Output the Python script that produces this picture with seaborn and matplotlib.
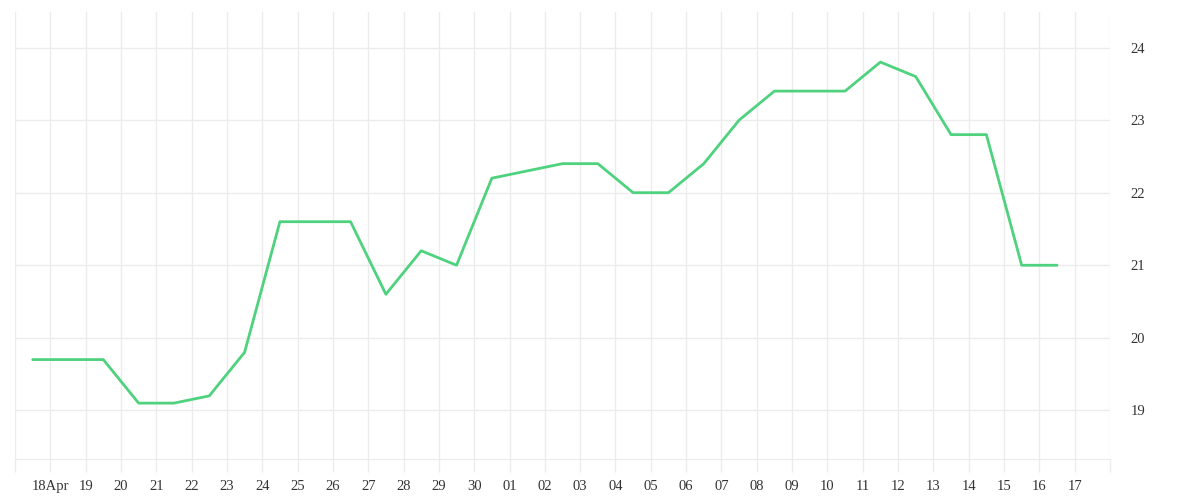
import pandas as pd
import numpy as np
import matplotlib
matplotlib.use("Agg")
import matplotlib.pyplot as plt
import matplotlib.dates as mdates
import seaborn as sns

# daily values, plotted at noon of each day
days = pd.date_range("2024-04-17", "2024-05-16", freq="D") + pd.Timedelta(hours=12)
values = [19.7, 19.7, 19.7, 19.1, 19.1, 19.2, 19.8, 21.6, 21.6, 21.6,
          20.6, 21.2, 21.0, 22.2, 22.3, 22.4, 22.4, 22.0, 22.0, 22.4,
          23.0, 23.4, 23.4, 23.4, 23.8, 23.6, 22.8, 22.8, 21.0, 21.0]

tick_days = pd.date_range("2024-04-17", "2024-05-18", freq="D")
tick_labels = ["", "18Apr", "19", "20", "21", "22", "23", "24", "25", "26", "27",
               "28", "29", "30", "01", "02", "03", "04", "05", "06", "07", "08",
               "09", "10", "11", "12", "13", "14", "15", "16", "17", ""]
y_ticks = [19, 20, 21, 22, 23, 24]

df = pd.DataFrame({"time": days, "value": values})

sns.set_style("white")
plt.rcParams["font.family"] = ["Liberation Serif", "DejaVu Serif"]

grid_col = "#ececec"
fig = plt.figure(figsize=(12, 5), dpi=100)
ax = fig.add_axes([15 / 1200, 41 / 500, 1095 / 1200, 447 / 500])

sns.lineplot(data=df, x="time", y="value", ax=ax, color="#4fd27e", linewidth=2)

ax.set_xlim(tick_days[0], tick_days[-1])
ax.set_ylim(18.33, 24.49)
ax.set_xticks(tick_days)
ax.set_xticklabels(tick_labels)
ax.set_yticks(y_ticks)
ax.yaxis.tick_right()
ax.set_xlabel("")
ax.set_ylabel("")

ax.grid(True, color=grid_col, linewidth=1)
for s in ["top", "left", "right"]:
    ax.spines[s].set_visible(False)
ax.spines["bottom"].set_color(grid_col)
ax.tick_params(axis="x", bottom=True, direction="out", length=9, width=1, color=grid_col,
               pad=6, labelsize=10.5, labelcolor="#333333")
ax.tick_params(axis="y", length=0, pad=15, labelsize=10.5, labelcolor="#333333")

fig.savefig("out.png", dpi=100)
